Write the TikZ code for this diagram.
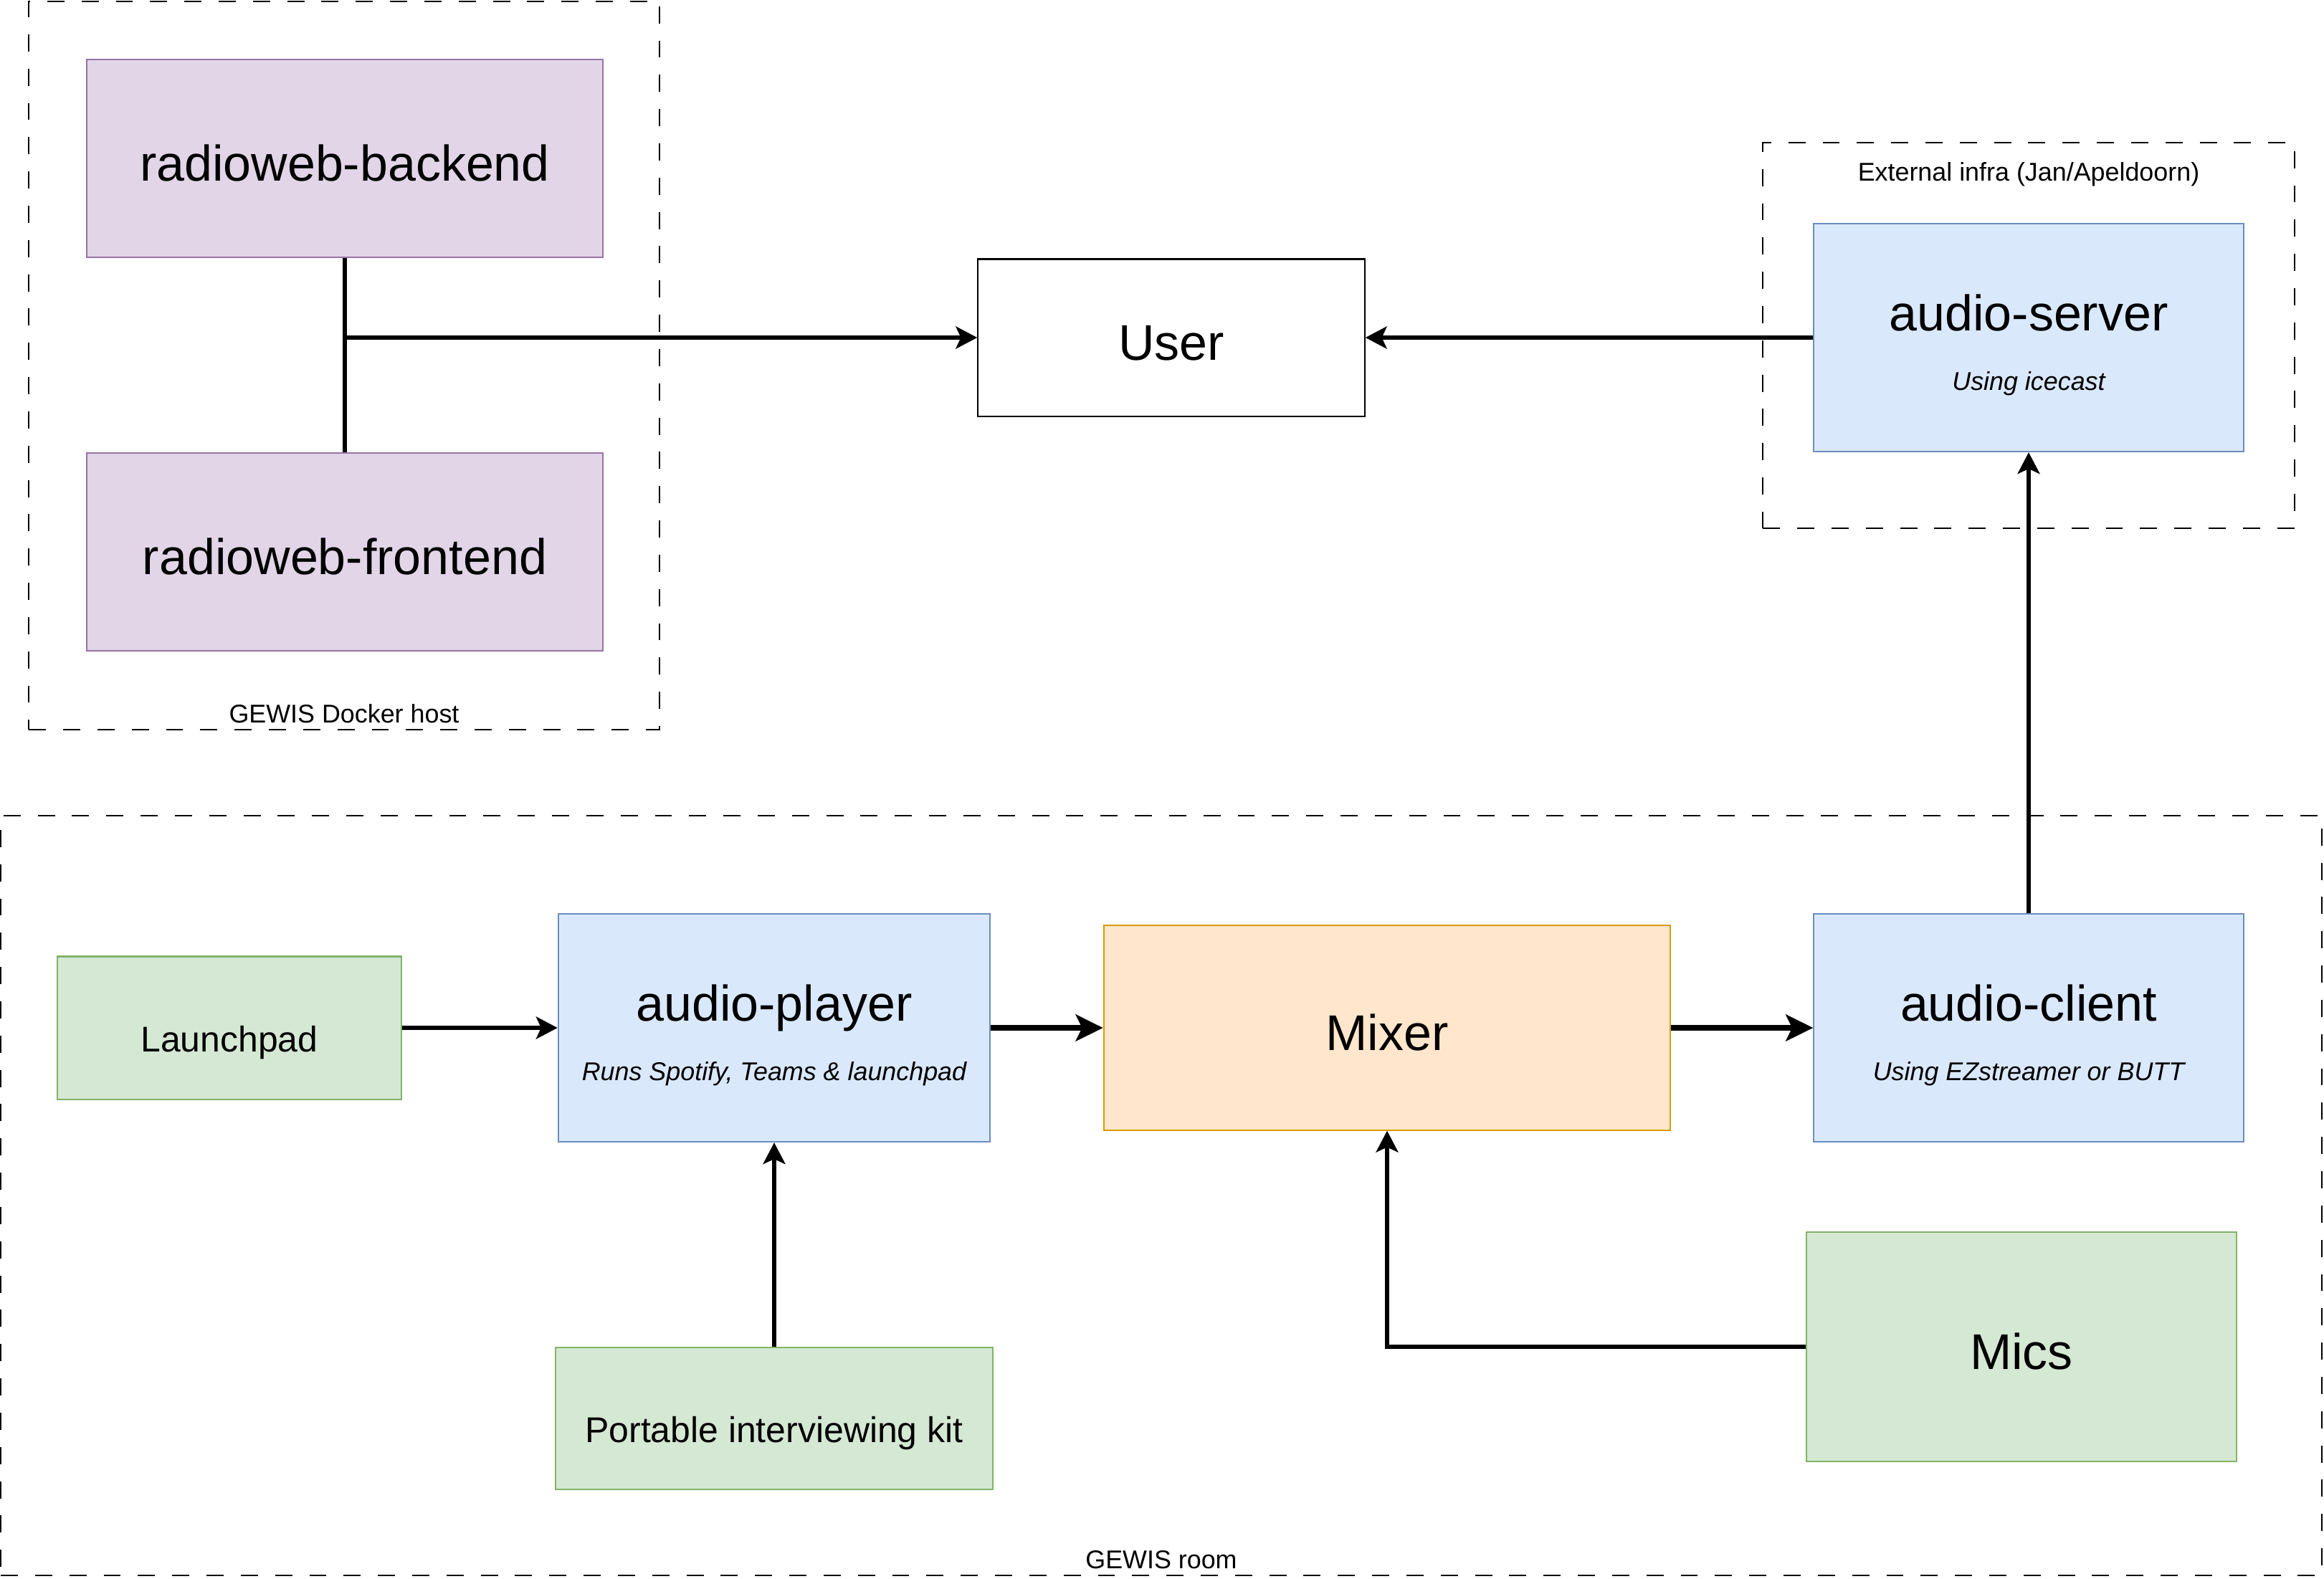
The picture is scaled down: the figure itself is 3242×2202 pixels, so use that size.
\documentclass[tikz,border=0pt]{standalone}
\usepackage{fontspec}
\setmainfont{Liberation Sans}
\usetikzlibrary{positioning}
\usetikzlibrary{calc}
\usetikzlibrary{arrows.meta}
\definecolor{purplefill}{HTML}{E1D5E7}
\definecolor{purpleline}{HTML}{9673A6}
\definecolor{bluefill}{HTML}{DAE8FC}
\definecolor{blueline}{HTML}{6C8EBF}
\definecolor{greenfill}{HTML}{D5E8D4}
\definecolor{greenline}{HTML}{82B366}
\definecolor{orangefill}{HTML}{FFE6CC}
\definecolor{orangeline}{HTML}{D79B00}

\begin{document}
\begin{tikzpicture}
    [x=0.01cm, y=-0.01cm,
    box/.style={rectangle, draw, line width=0.6pt, inner sep=0pt},
    bigtext/.style={font=\fontsize{19.9}{24}\selectfont, text height=0.63cm, text depth=0pt},
    midtext/.style={font=\fontsize{14.2}{17}\selectfont, text height=0.66cm, text depth=0pt},
    web/.style={box, fill=purplefill, draw=purpleline, bigtext},
    plainbox/.style={box, fill=white, draw=black, bigtext},
    service/.style={box, fill=bluefill, draw=blueline},
    device/.style={box, fill=greenfill, draw=greenline, midtext},
    bigdevice/.style={box, fill=greenfill, draw=greenline, bigtext},
    mixerbox/.style={box, fill=orangefill, draw=orangeline, bigtext},
    title/.style={anchor=base, inner sep=0pt, font=\fontsize{19.9}{24}\selectfont},
    subtitle/.style={anchor=base, inner sep=0pt, font=\fontsize{10.2}{12}\selectfont\itshape},
    group/.style={rectangle, draw, line width=0.6pt, dash pattern=on 6.8pt off 6.8pt, inner sep=0pt},
    grouplabel/.style={anchor=base, inner sep=0pt, font=\fontsize{10.2}{12}\selectfont},
    link/.style={line width=1.5pt, >={Stealth[length=8.5pt, width=8.8pt, inset=2pt]}},
    flow/.style={line width=2.2pt, >={Stealth[length=10.8pt, width=10.5pt, inset=2.5pt]}}]
     \useasboundingbox (0,0) rectangle (3242,2202);
     %\draw[step=100,gray,very thin] (0,0) grid (3242,2202);
     \node[group, minimum width=8.79cm, minimum height=10.16cm] (docker) at (480, 510) {};
     \node[group, minimum width=7.41cm, minimum height=5.37cm] (extern) at (2830, 468) {};
     \node[group, minimum width=32.36cm, minimum height=10.6cm] (room) at (1620, 1668) {};
     \node[grouplabel] (dockerL) at (480, 1008) {GEWIS Docker host};
     \node[grouplabel] (externL) at (2830, 252) {External infra (Jan/Apeldoorn)};
     \node[grouplabel] (roomL) at (1620, 2188) {GEWIS room};
     \node[web, minimum width=7.19cm, minimum height=2.76cm] (backend) at (481, 221) {radioweb-backend};
     \node[web, minimum width=7.19cm, minimum height=2.76cm] (frontend) at (481, 770) {radioweb-frontend};
     \node[plainbox, minimum width=5.39cm, minimum height=2.19cm] (user) at (1634, 471) {User};
     \node[service, minimum width=5.99cm, minimum height=3.18cm] (server) at (2830, 471) {};
     \node[title] (serverT) at ($(server.center)+(0,-10)$) {audio-server};
     \node[subtitle] (serverS) at ($(server.center)+(0,73)$) {Using icecast};
     \node[device, minimum width=4.79cm, minimum height=1.99cm] (launch) at (320, 1434) {Launchpad};
     \node[service, minimum width=6.02cm, minimum height=3.18cm] (player) at (1080, 1434) {};
     \node[title] (playerT) at ($(player.center)+(0,-10)$) {audio-player};
     \node[subtitle] (playerS) at ($(player.center)+(0,73)$) {Runs Spotify, Teams \& launchpad};
     \node[mixerbox, minimum width=7.9cm, minimum height=2.85cm] (mixer) at (1935, 1434) {Mixer};
     \node[service, minimum width=5.99cm, minimum height=3.18cm] (client) at (2830, 1434) {};
     \node[title] (clientT) at ($(client.center)+(0,-10)$) {audio-client};
     \node[subtitle] (clientS) at ($(client.center)+(0,73)$) {Using EZstreamer or BUTT};
     \node[bigdevice, minimum width=6.0cm, minimum height=3.2cm] (mics) at (2820, 1879) {Mics};
     \node[device, minimum width=6.1cm, minimum height=1.98cm] (kit) at (1080, 1979) {Portable interviewing kit};
     \coordinate (tee) at (backend.south |- user.west);
     \draw[link] (backend) -- (frontend);
     \draw[link, ->] (tee) -- (user);
     \draw[link, ->] (server) -- (user);
     \draw[link, ->] (client) -- (server);
     \draw[link, ->] (launch) -- (player);
     \draw[flow, ->] (player) -- (mixer);
     \draw[flow, ->] (mixer) -- (client);
     \draw[link, ->] (kit) -- (player);
     \draw[link, ->] (mics.west) -| (mixer.south);
\end{tikzpicture}
\end{document}
